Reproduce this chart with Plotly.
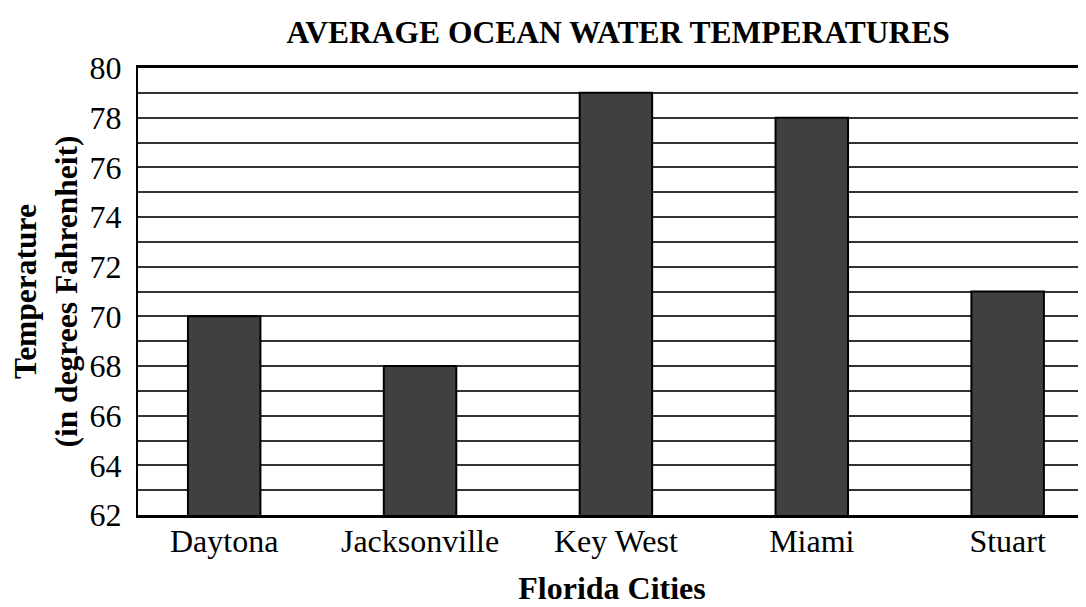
import plotly.graph_objects as go

cities = ["Daytona", "Jacksonville", "Key West", "Miami", "Stuart"]
temps = [70, 68, 79, 78, 71]
y_ticks = [62, 64, 66, 68, 70, 72, 74, 76, 78, 80]

fig = go.Figure(go.Bar(
    x=cities, y=temps,
    marker=dict(color="#404040", line=dict(color="black", width=2)),
    width=0.37,
))

fig.update_layout(
    width=1078, height=599,
    margin=dict(l=130, r=0, t=60, b=92),
    paper_bgcolor="white", plot_bgcolor="white",
    showlegend=False,
    font=dict(family="Liberation Serif, Times New Roman, serif", color="black", size=33),
    title=dict(text="<b>AVERAGE OCEAN WATER TEMPERATURES</b>", x=0.566, xanchor="center",
               y=0.96, yanchor="middle", font=dict(size=31.5)),
)
fig.update_xaxes(
    range=[-0.44, 4.4], showline=True, linecolor="black", linewidth=3, mirror=True,
    showgrid=False, ticks="", tickfont=dict(size=32), ticklabelstandoff=-4, automargin=False,
    title=dict(text="<b>Florida Cities</b>", font=dict(size=32), standoff=19),
)
fig.update_yaxes(
    range=[62, 80], tickvals=y_ticks, showline=True, linecolor="black", linewidth=2,
    showgrid=True, gridcolor="#333333", gridwidth=1.5, zeroline=False, ticks="",
    tickfont=dict(size=32), ticklabelstandoff=8, automargin=False,
    minor=dict(dtick=1, showgrid=True, gridcolor="#333333", gridwidth=1.5),
    title=dict(text="<b>Temperature<br>(in degrees Fahrenheit)</b>", font=dict(size=31.5), standoff=22),
)

fig.write_html("out.html")
